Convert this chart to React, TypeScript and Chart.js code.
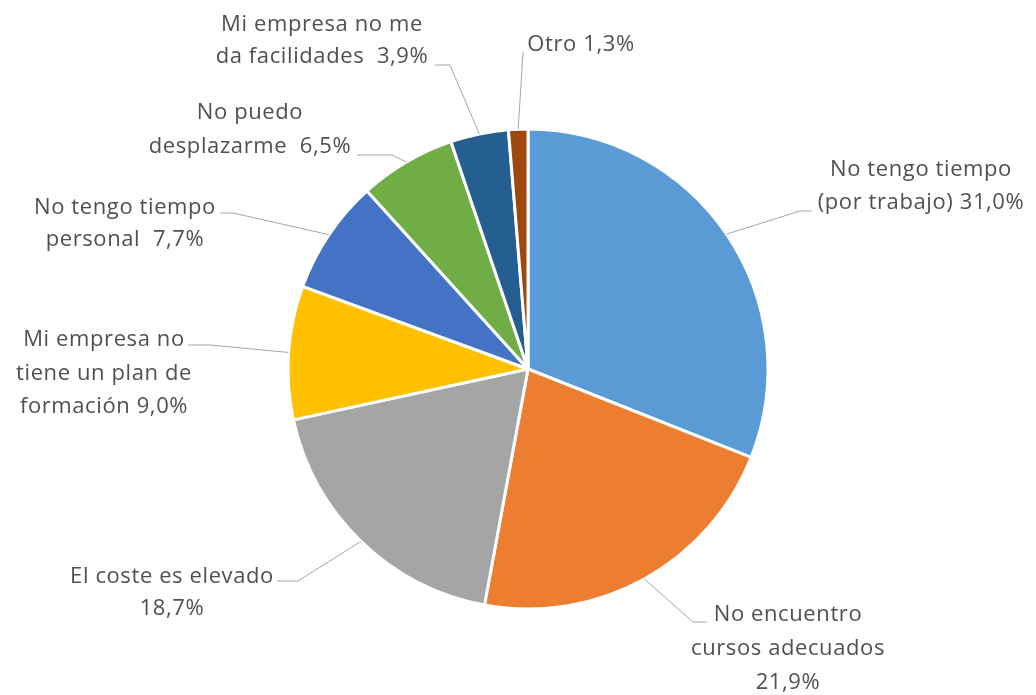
import React, { useEffect, useRef } from "react";
import { Chart, registerables } from "chart.js";

Chart.register(...registerables);

// ---- data ----
const categories: string[] = [
  "No tengo tiempo\n(por trabajo)",
  "No encuentro\ncursos adecuados",
  "El coste es elevado",
  "Mi empresa no\ntiene un plan de\nformación",
  "No tengo tiempo\npersonal",
  "No puedo\ndesplazarme",
  "Mi empresa no me\nda facilidades",
  "Otro",
];
const values: number[] = [31.0, 21.9, 18.7, 9.0, 7.7, 6.5, 3.9, 1.3];
// separator between category name and percentage in each label
const percentSeparators: string[] = [" ", "\n", "\n", " ", "  ", "  ", "  ", " "];
const colors: string[] = [
  "#5B9BD5",
  "#ED7D31",
  "#A5A5A5",
  "#FFC000",
  "#4472C4",
  "#70AD47",
  "#255E91",
  "#9E480E",
];

// ---- label layout (offsets from the pie centre, px) ----
type LabelLayout = { tx: number; ty: number; lh: number; ax: number; ay: number; ex: number; ey: number };
const labelLayout: LabelLayout[] = [
  { tx: 393, ty: -199, lh: 33, ax: 284, ay: -158, ex: 272, ey: -158 },
  { tx: 260, ty: 246, lh: 34, ax: 179, ay: 253, ex: 165, ey: 253 },
  { tx: -356, ty: 208, lh: 32, ax: -251, ay: 212, ex: -230, ey: 212 },
  { tx: -424, ty: -29, lh: 33.5, ax: -340, ay: -24, ex: -318, ey: -24 },
  { tx: -403, ty: -161, lh: 32, ax: -308, ay: -156, ex: -295, ey: -156 },
  { tx: -278, ty: -256, lh: 34, ax: -171, ay: -214, ex: -136, ey: -214 },
  { tx: -206, ty: -344, lh: 32, ax: -93, ay: -304, ex: -78, ey: -304 },
  { tx: 53, ty: -324, lh: 32, ax: -5, ay: -317, ex: -5, ey: -317 },
];

const fmtPct = (v: number) => v.toFixed(1).replace(".", ",") + "%";

const outsideLabels = {
  id: "outsideLabels",
  afterDatasetsDraw(chart: any) {
    const ctx = chart.ctx as CanvasRenderingContext2D;
    const meta = chart.getDatasetMeta(0);
    meta.data.forEach((arc: any, i: number) => {
      const { x, y, startAngle, endAngle, outerRadius } = arc.getProps(
        ["x", "y", "startAngle", "endAngle", "outerRadius"],
        true
      );
      const L = labelLayout[i];
      const mid = (startAngle + endAngle) / 2;
      const px = x + outerRadius * Math.cos(mid);
      const py = y + outerRadius * Math.sin(mid);
      ctx.save();
      ctx.strokeStyle = "#A6A6A6";
      ctx.lineWidth = 1;
      ctx.beginPath();
      ctx.moveTo(px, py);
      ctx.lineTo(x + L.ex, y + L.ey);
      ctx.lineTo(x + L.ax, y + L.ay);
      ctx.stroke();

      const text = categories[i] + percentSeparators[i] + fmtPct(values[i]);
      const lines = text.split("\n");
      ctx.fillStyle = "#505050";
      ctx.font = '22px "Open Sans", "Noto Sans", sans-serif';
      (ctx as any).letterSpacing = "0.6px";
      ctx.textAlign = "center";
      ctx.textBaseline = "middle";
      lines.forEach((ln, k) => {
        ctx.fillText(ln, x + L.tx, y + L.ty + k * L.lh);
      });
      ctx.restore();
    });
  },
};

export default function App() {
  const ref = useRef<HTMLCanvasElement | null>(null);
  useEffect(() => {
    if (!ref.current) return;
    const chart = new Chart(ref.current, {
      type: "pie",
      data: {
        labels: categories,
        datasets: [
          {
            data: values,
            backgroundColor: colors,
            borderColor: "#FFFFFF",
            borderWidth: 3,
          },
        ],
      },
      options: {
        animation: false,
        responsive: false,
        events: [],
        layout: { padding: { left: 286.5, right: 266.5, top: 127.5, bottom: 84.5 } },
        plugins: {
          legend: { display: false },
          tooltip: { enabled: false },
        },
      },
      plugins: [outsideLabels],
    });
    return () => chart.destroy();
  }, []);
  return (
    <div style={{ position: "absolute", left: 0, top: 0, width: 1036, height: 695, background: "#fff" }}>
      <canvas ref={ref} width={1036} height={695} />
    </div>
  );
}
